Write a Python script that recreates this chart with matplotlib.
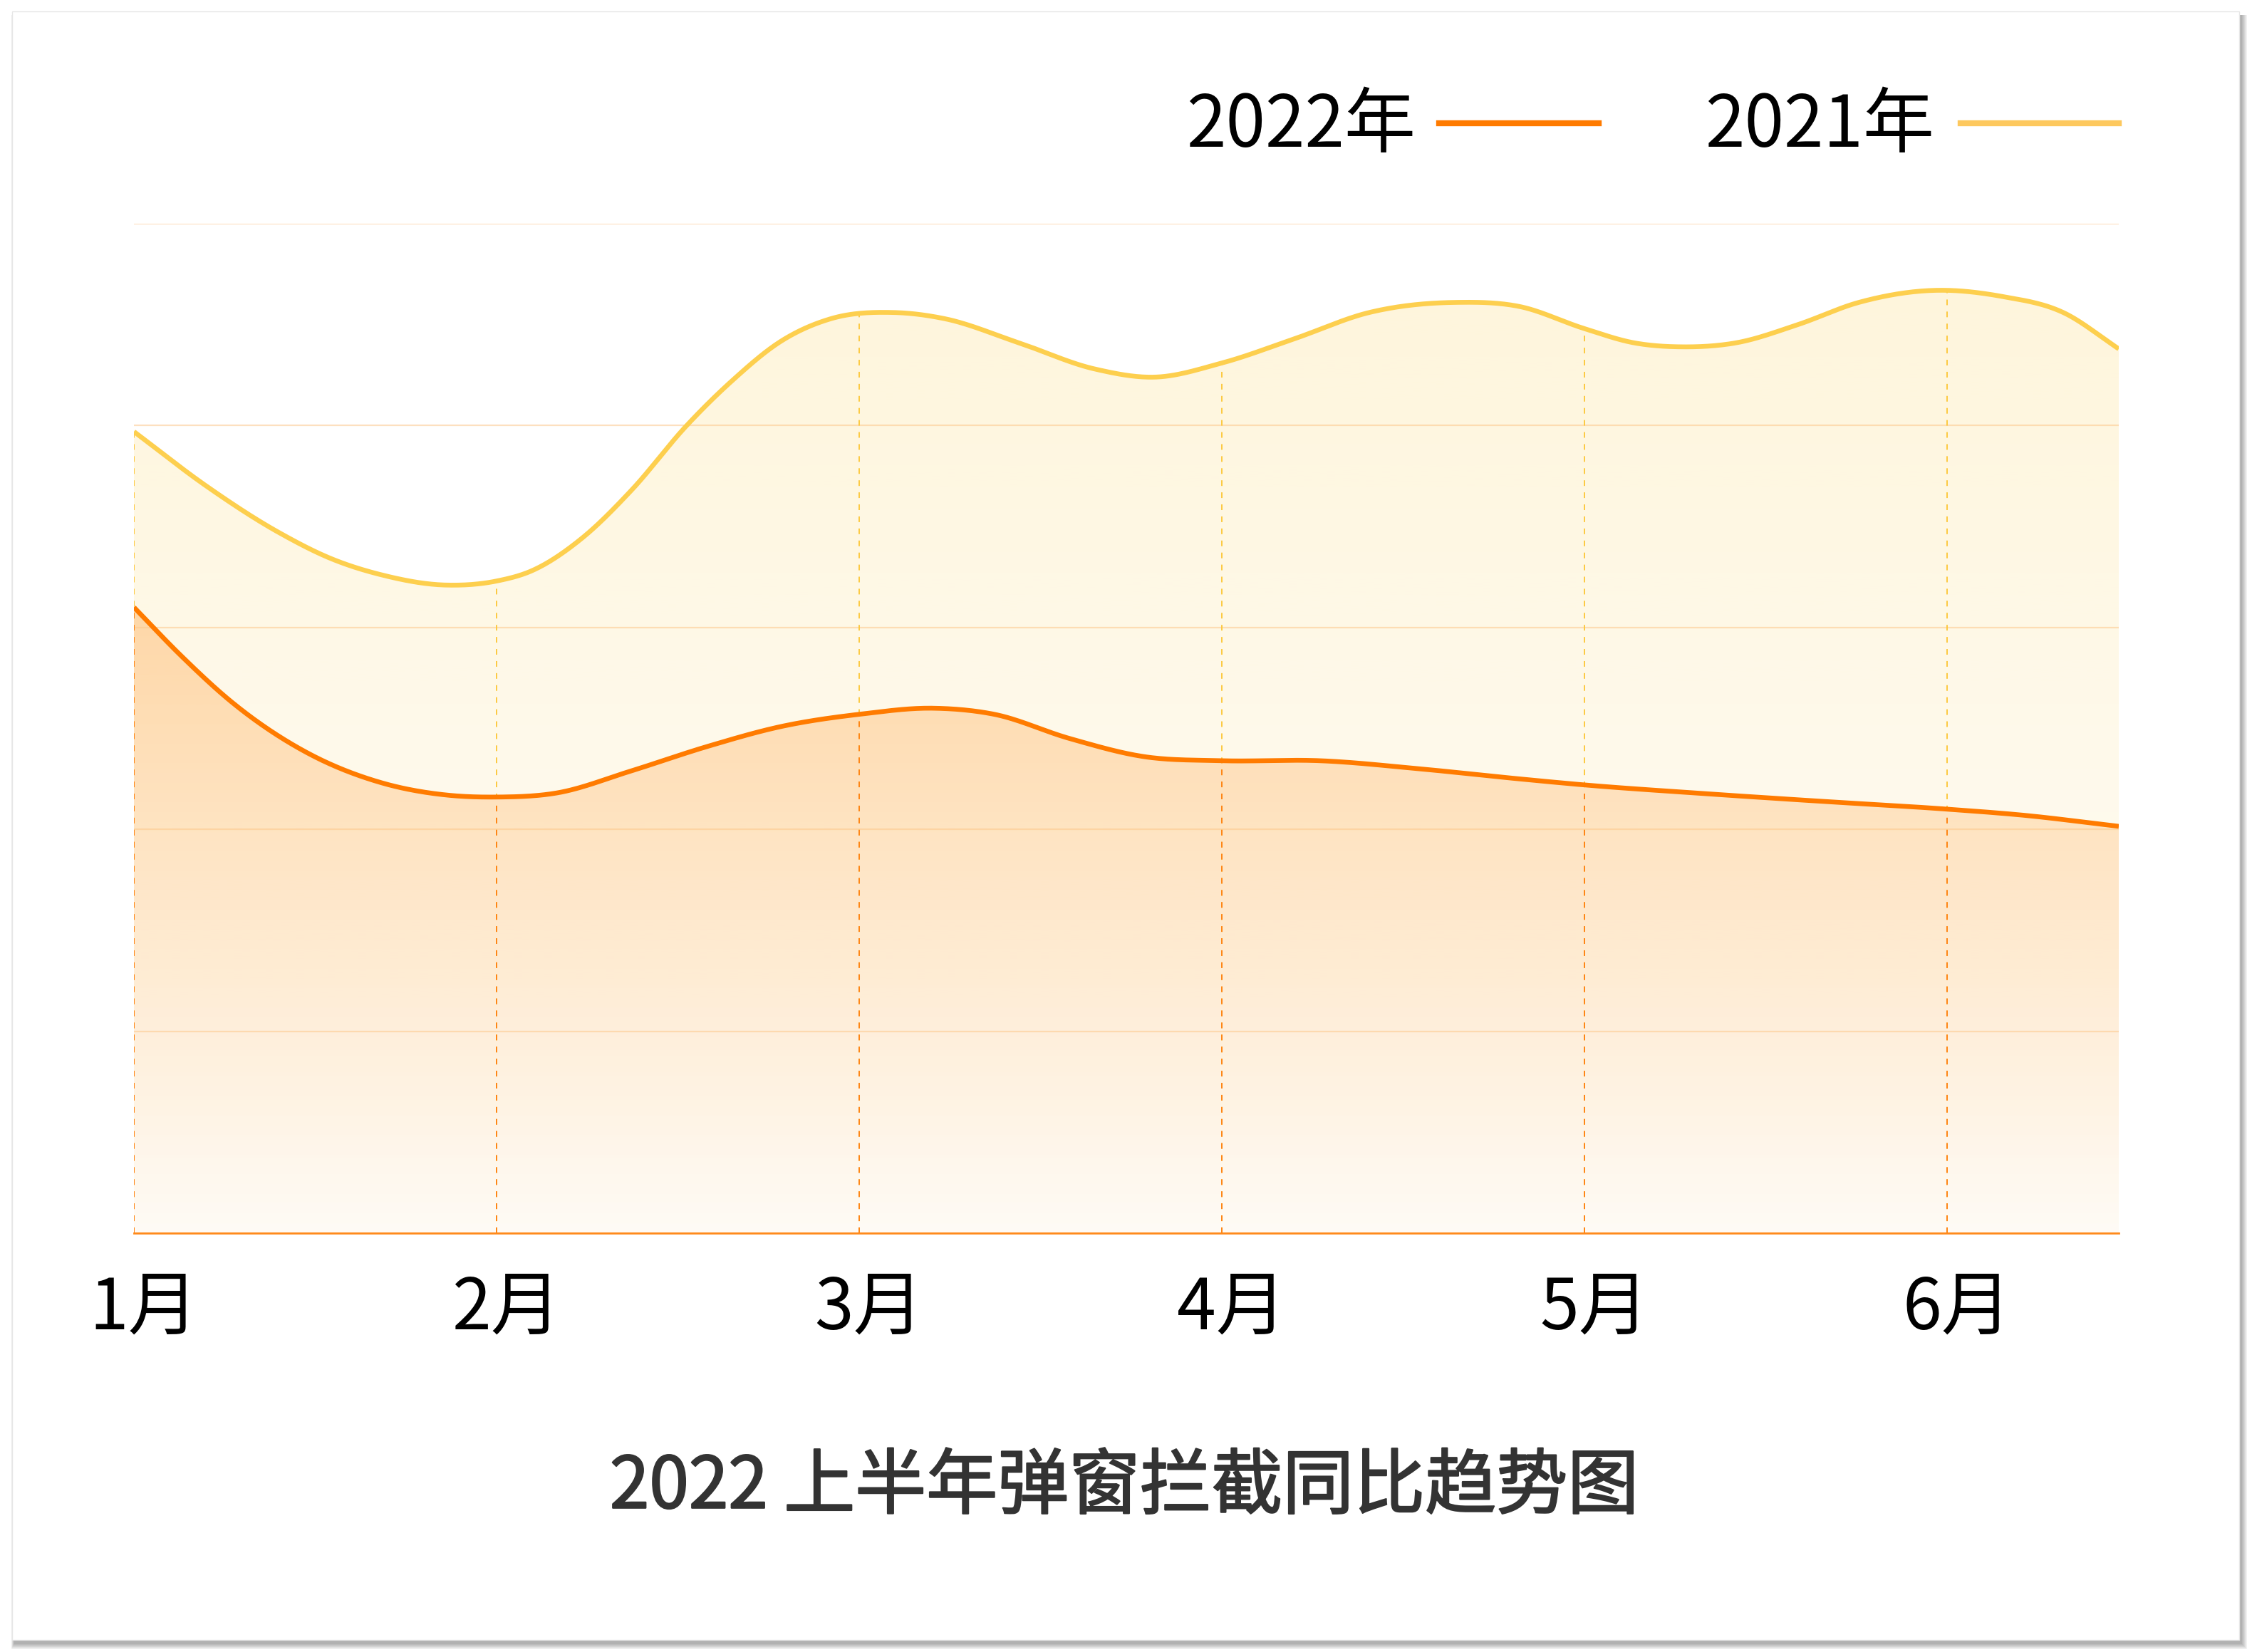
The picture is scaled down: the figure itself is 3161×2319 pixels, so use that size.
import numpy as np
import matplotlib
matplotlib.use("Agg")
import matplotlib.pyplot as plt
from matplotlib.patches import Rectangle
from matplotlib.lines import Line2D
import matplotlib.transforms as mtransforms
import matplotlib.patheffects as pe

plt.rcParams['font.family'] = ['Noto Sans CJK SC', 'DejaVu Sans']

# months on the category axis
months = ['1月', '2月', '3月', '4月', '5月', '6月']

# 2021 curve (x = month position, 0 = 1月)
x_2021 = [0, 0.2, 0.4, 0.545, 0.684, 0.862, 1.0, 1.096, 1.234, 1.372, 1.524, 1.648,
          1.786, 1.923, 2.096, 2.234, 2.44, 2.65, 2.813, 3.0, 3.2, 3.406, 3.64, 3.82,
          4.0, 4.136, 4.27, 4.418, 4.588, 4.756, 4.97, 5.15, 5.32, 5.473]
y_2021 = [3.97, 3.70, 3.47, 3.34, 3.26, 3.21, 3.23, 3.28, 3.44, 3.68, 4.00, 4.22,
          4.42, 4.53, 4.56, 4.53, 4.41, 4.28, 4.24, 4.31, 4.43, 4.56, 4.61, 4.59,
          4.48, 4.41, 4.39, 4.41, 4.50, 4.61, 4.67, 4.64, 4.56, 4.38]

# 2022 curve
x_2022 = [0, 0.13, 0.27, 0.477, 0.684, 0.862, 1.0, 1.165, 1.372, 1.58, 1.786, 2.0,
          2.206, 2.372, 2.58, 2.786, 3.0, 3.27, 3.544, 3.82, 4.0, 4.306, 4.644, 5.0,
          5.21, 5.473]
y_2022 = [3.10, 2.86, 2.63, 2.38, 2.23, 2.17, 2.16, 2.18, 2.29, 2.41, 2.51, 2.57,
          2.60, 2.57, 2.45, 2.36, 2.34, 2.34, 2.30, 2.25, 2.22, 2.18, 2.14, 2.10,
          2.07, 2.015]

series_names = ['2022年', '2021年']
title = '2022 上半年弹窗拦截同比趋势图'

ORANGE = '#FF7B00'
YELLOW = '#FDCF4E'


def smooth(xs, ys, n=30):
    # cubic hermite through the read points
    xs = np.asarray(xs, float)
    ys = np.asarray(ys, float)
    m = np.gradient(ys, xs)
    t = np.linspace(0, 1, n, endpoint=False)
    h00 = 2 * t**3 - 3 * t**2 + 1
    h10 = t**3 - 2 * t**2 + t
    h01 = -2 * t**3 + 3 * t**2
    h11 = t**3 - t**2
    ox, oy = [], []
    for i in range(len(xs) - 1):
        h = xs[i + 1] - xs[i]
        ox.append(xs[i] + t * h)
        oy.append(h00 * ys[i] + h10 * h * m[i] + h01 * ys[i + 1] + h11 * h * m[i + 1])
    ox.append([xs[-1]])
    oy.append([ys[-1]])
    return np.concatenate(ox), np.concatenate(oy)


W, H, DPI = 3161, 2319, 100
fig = plt.figure(figsize=(W / DPI, H / DPI), dpi=DPI)
fig.patch.set_facecolor('white')

# card with soft shadow (pixel coords, origin bottom-left)
cx0, cy0, cx1, cy1 = 17, 2319 - 2302, 3143, 2319 - 16
for k in range(14, 0, -1):
    fig.patches.append(Rectangle((cx0 + 3 - k * 0.3, cy0 - 5 - k * 0.6),
                                 (cx1 - cx0) + k * 0.9, (cy1 - cy0) + k * 0.6,
                                 transform=None, facecolor='black', alpha=0.025,
                                 edgecolor='none', zorder=0))
fig.patches.append(Rectangle((cx0, cy0), cx1 - cx0, cy1 - cy0, transform=None,
                             facecolor='white', edgecolor='#e6e6e6', linewidth=1, zorder=1))

ax = fig.add_axes([188 / W, 588 / H, (2974 - 188) / W, (2005 - 588) / H])
ax.set_facecolor('none')
ax.set_zorder(2)
xmax = 5.473
ax.set_xlim(0, xmax)
ax.set_ylim(0, 5)

sx21, sy21 = smooth(x_2021, y_2021)
sx22, sy22 = smooth(x_2022, y_2022)


def gradient_fill(xs, ys, rgb, a_top, a_bot, z):
    poly = ax.fill_between(xs, ys, 0, facecolor='none', edgecolor='none')
    top = ys.max()
    g = np.zeros((256, 1, 4))
    g[:, 0, :3] = matplotlib.colors.to_rgb(rgb)
    g[:, 0, 3] = np.linspace(a_top, a_bot, 256)
    im = ax.imshow(g, extent=[0, xmax, 0, top], aspect='auto', origin='upper', zorder=z,
                   interpolation='bilinear')
    im.set_clip_path(poly.get_paths()[0], transform=ax.transData)


gradient_fill(sx21, sy21, YELLOW, 0.2, 0.03, 1)
gradient_fill(sx22, sy22, '#FF8000', 0.27, 0.02, 2)

# horizontal grid
for gy in [1, 2, 3, 4, 5]:
    ax.axhline(gy, color='#FDC88C', alpha=0.55, lw=1.6, zorder=3)
ax.axhline(0, color='#FF8A1A', lw=2.0, zorder=6, clip_on=False)

# dashed month drop lines
for i in range(len(months)):
    v21 = np.interp(i, sx21, sy21)
    v22 = np.interp(i, sx22, sy22)
    ax.plot([i, i], [0, v21], color='#FCC940', lw=1.4, ls=(0, (4.1, 4.6)), zorder=3)
    ax.plot([i, i], [0, v22], color='#FF8515', lw=1.4, ls=(0, (4.1, 4.6)), zorder=4)

ax.plot(sx21, sy21, color=YELLOW, lw=4.8, zorder=5, solid_capstyle='butt')
ax.plot(sx22, sy22, color=ORANGE, lw=4.8, zorder=5, solid_capstyle='butt')

ax.set_xticks(range(len(months)))
ax.set_xticklabels(months, fontsize=71, color='black')
ax.tick_params(axis='x', length=0, pad=40)
offset = mtransforms.ScaledTranslation(14 / DPI, 0, fig.dpi_scale_trans)
for lab in ax.get_xticklabels():
    lab.set_transform(lab.get_transform() + offset)
ax.set_yticks([])
for s in ax.spines.values():
    s.set_visible(False)

# legend
legend_items = [(series_names[0], ORANGE, 1665, 2020, 2244),
                (series_names[1], '#FDC85E', 2393, 2752, 2974)]
for name, col, tx, l0, l1 in legend_items:
    fig.text(tx / W, 1 - 177 / H, name, fontsize=72, color='black', ha='left', va='center',
             zorder=5)
    fig.lines.append(Line2D([l0 / W, l1 / W], [1 - 173 / H, 1 - 173 / H], transform=fig.transFigure,
                            color=col, lw=6, zorder=5))

fig.text(1578 / W, 1 - 2088 / H, title, fontsize=72, color='#333333', ha='center',
         va='center', zorder=5,
         path_effects=[pe.withStroke(linewidth=1.6, foreground='#333333')])

fig.savefig('out.png', dpi=DPI, facecolor='white')
